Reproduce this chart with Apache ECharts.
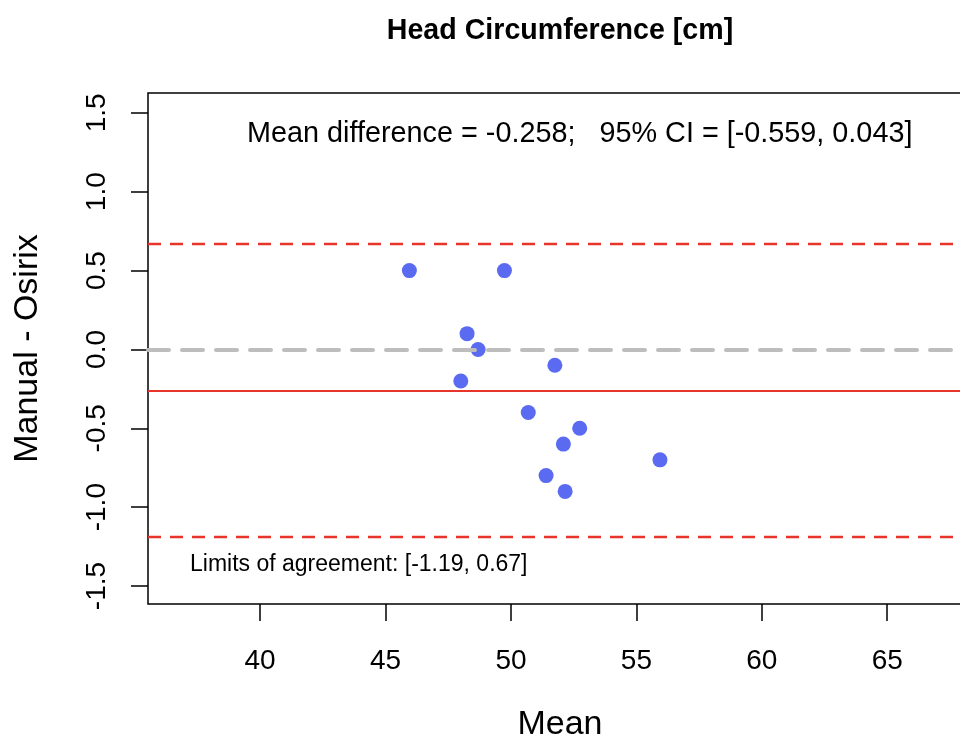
<!DOCTYPE html>
<html>
<head>
<meta charset="utf-8">
<script src="https://cdn.jsdelivr.net/npm/echarts@6/dist/echarts.min.js"></script>
<style>
html,body{margin:0;padding:0;background:#fff;}
#chart{width:960px;height:738px;}
</style>
</head>
<body>
<div id="chart"></div>
<script>
// Data
const meanValues = [45.95, 49.74, 48.25, 48.69, 51.75, 48.0, 50.69, 52.74, 52.09, 55.94, 51.40, 52.16];
const diffValues = [0.5, 0.5, 0.1, 0.0, -0.1, -0.2, -0.4, -0.5, -0.6, -0.7, -0.8, -0.9];
const meanDiff = -0.258;
const loaLower = -1.19;
const loaUpper = 0.67;
const zeroLine = 0;
const xTicks = [40, 45, 50, 55, 60, 65];
const yTicks = [-1.5, -1.0, -0.5, 0.0, 0.5, 1.0, 1.5];
const titleText = 'Head Circumference [cm]';
const meanText = 'Mean difference = -0.258;   95% CI = [-0.559, 0.043]';
const loaText = 'Limits of agreement: [-1.19, 0.67]';

const points = meanValues.map((m, i) => [m, diffValues[i]]);
const FONT = '"Liberation Sans", Arial, Helvetica, sans-serif';

const chart = echarts.init(document.getElementById('chart'), null, {renderer: 'canvas'});
chart.setOption({
  animation: false,
  backgroundColor: '#fff',
  textStyle: {fontFamily: FONT},
  grid: {
    left: 148, top: 93, width: 824, height: 511,
    outerBoundsMode: 'none', containLabel: false,
    show: true, borderColor: '#000', borderWidth: 1.5, backgroundColor: 'transparent'
  },
  xAxis: {
    type: 'value', min: 35.53, max: 68.38,
    name: 'Mean', nameLocation: 'middle', nameGap: 104,
    nameTextStyle: {fontFamily: FONT, fontSize: 34, color: '#000'},
    axisLine: {show: false, onZero: false},
    splitLine: {show: false},
    axisTick: {show: true, inside: false, length: 17, customValues: xTicks, lineStyle: {color: '#000', width: 1.5}},
    axisLabel: {show: true, customValues: xTicks, margin: 43, fontFamily: FONT, fontSize: 28, color: '#000'}
  },
  yAxis: {
    type: 'value', min: -1.614, max: 1.626,
    name: 'Manual - Osirix', nameLocation: 'middle', nameGap: 103, nameRotate: 90,
    nameTextStyle: {fontFamily: FONT, fontSize: 34, color: '#000'},
    axisLine: {show: false, onZero: false},
    splitLine: {show: false},
    axisTick: {show: true, inside: false, length: 17, customValues: yTicks, lineStyle: {color: '#000', width: 1.5}},
    axisLabel: {show: true, customValues: yTicks, rotate: 90, margin: 37, fontFamily: FONT, fontSize: 28, color: '#000',
      formatter: v => Number(v).toFixed(1)}
  },
  series: [
    {
      type: 'scatter', data: points, symbol: 'circle', symbolSize: 15, z: 2,
      itemStyle: {color: '#5a6bf2', opacity: 1}
    },
    {
      type: 'line', data: [], z: 5, silent: true,
      markLine: {
        silent: true, symbol: ['none', 'none'], label: {show: false}, animation: false,
        data: [
          {yAxis: zeroLine, lineStyle: {color: '#bdbdbd', width: 4, type: [21, 13], cap: 'round'}},
          {yAxis: meanDiff, lineStyle: {color: '#e8352b', width: 2, type: 'solid'}},
          {yAxis: loaUpper, lineStyle: {color: '#e8352b', width: 2.3, type: [13, 9]}},
          {yAxis: loaLower, lineStyle: {color: '#e8352b', width: 2.3, type: [13, 9]}}
        ]
      }
    }
  ],
  graphic: [
    {type: 'text', x: 560, y: 17, z: 10,
      style: {text: titleText, fontFamily: FONT, fontSize: 28.6, fontWeight: 'bold', fill: '#000', align: 'center'}},
    {type: 'text', x: 247, y: 120, z: 10,
      style: {text: meanText, fontFamily: FONT, fontSize: 28.8, fill: '#000'}},
    {type: 'text', x: 190, y: 553, z: 10,
      style: {text: loaText, fontFamily: FONT, fontSize: 23, fill: '#000'}}
  ]
});
</script>
</body>
</html>
